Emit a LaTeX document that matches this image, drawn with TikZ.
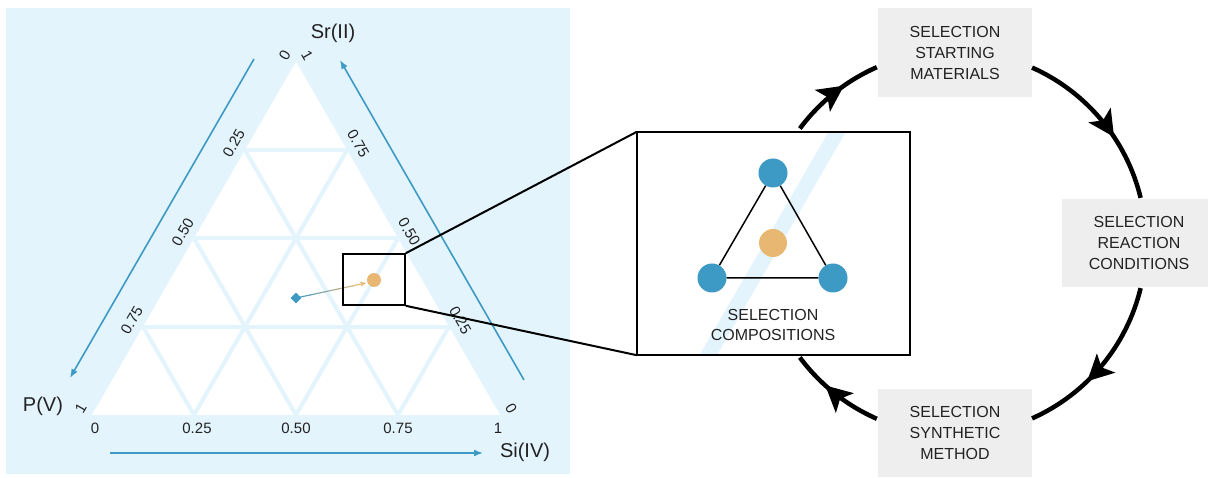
\documentclass[tikz,border=0pt]{standalone}
\usepackage{fontspec}
\setmainfont{Liberation Sans}
\usetikzlibrary{arrows.meta,calc,shapes.geometric,decorations.markings}
\definecolor{bgblue}{HTML}{E3F4FD}
\definecolor{tblue}{HTML}{3D9AC4}
\definecolor{torange}{HTML}{E8B872}
\definecolor{boxgray}{HTML}{EEEEEE}
\definecolor{txt}{HTML}{222222}
\begin{document}
\begin{tikzpicture}[x=1pt,y=1pt,
  gridline/.style={bgblue,line width=4pt},
  axisarrow/.style={tblue,line width=1.6pt,-{Latex[length=9pt,width=7pt]}},
  tick/.style={font=\fontsize{15}{15}\selectfont,text=txt,inner sep=0pt},
  axlabel/.style={font=\fontsize{20}{20}\selectfont,text=txt,inner sep=0pt},
  graybox/.style={fill=boxgray,align=center,font=\fontsize{16}{21}\selectfont,text=txt,inner sep=0pt},
  cyc/.style={line width=4.5pt,postaction={decorate},decoration={markings,mark=at position 0.62 with {\arrow{Stealth[length=26pt,width=26pt,inset=6pt]}}}},
  vtx/.style={circle,fill=tblue,minimum size=29pt,inner sep=0pt},
  ctr/.style={circle,fill=torange,minimum size=28pt,inner sep=0pt},
  zoomline/.style={line width=2pt,black}
]
\useasboundingbox (0,0) rectangle (1208,477);
% background panel
\fill[bgblue] (6,3) rectangle (570,469);

% ternary triangle
\coordinate (A) at (92,62);
\coordinate (B) at (500,62);
\coordinate (C) at (296,415.3);
\fill[white] (A) -- (B) -- (C) -- cycle;
\foreach \t/\s in {0.25/0.75,0.5/0.5,0.75/0.25}{
  \draw[gridline] ($(A)!\t!(C)$) -- ($(B)!\t!(C)$);
  \draw[gridline] ($(A)!\t!(B)$) -- ($(B)!\s!(C)$);
  \draw[gridline] ($(A)!\t!(B)$) -- ($(A)!\t!(C)$);
}

% tick labels
\foreach \x/\l [count=\i] in {95/0,197/0.25,296/0.50,398/0.75,498/1}
  \node[tick] (bt\i) at (\x,49) {\l};
\foreach \t/\l [count=\i] in {0/0,0.25/0.25,0.5/0.50,0.75/0.75,1/1}
  \node[tick,rotate=60] (lt\i) at ($(C)!\t!(A)+(-11.3,6.5)$) {\l};
\foreach \t/\l [count=\i] in {0/1,0.25/0.75,0.5/0.50,0.75/0.25,1/0}
  \node[tick,rotate=-60] (rt\i) at ($(C)!\t!(B)+(11.3,6.5)$) {\l};

% axis labels
\node[axlabel] (sr) at (333,444) {Sr(II)};
\node[axlabel] (pv) at (43,71) {P(V)};
\node[axlabel] (si) at (525,25) {Si(IV)};

% axis arrows
\coordinate (la1) at (254,418); \coordinate (la2) at (70,99);
\coordinate (ra1) at (524,97);  \coordinate (ra2) at (340,417);
\coordinate (ba1) at (110,24);  \coordinate (ba2) at (483,24);
\draw[axisarrow] (la1) -- (la2);
\draw[axisarrow] (ra1) -- (ra2);
\draw[axisarrow] (ba1) -- (ba2);

% point and move
\node[diamond,fill=tblue,inner sep=0pt,minimum size=11pt] (dm) at (296,179) {};
\coordinate (tp) at (366,194);
\foreach \i in {0,...,8}{
  \pgfmathtruncatemacro\p{100-\i*12}
  \pgfmathsetmacro\a{\i/10}
  \pgfmathsetmacro\b{\i/10+0.11}
  \draw[line width=1.1pt,tblue!\p!torange] ($(dm.center)!\a!(tp)$) -- ($(dm.center)!\b!(tp)$);
}
\draw[line width=1.1pt,torange,-{Stealth[length=6pt,width=5pt]}] ($(dm.center)!0.9!(tp)$) -- (tp);
\node[circle,fill=torange,minimum size=14pt,inner sep=0pt] (od) at (374,197) {};

% selection box
\node[draw=black,line width=1.6pt,minimum width=62pt,minimum height=51pt,inner sep=0pt] (sbox) at (374,197.5) {};

% inset
\node[fill=white,minimum width=273pt,minimum height=223pt,inner sep=0pt] (inset) at (773.5,233.5) {};
\begin{scope}
  \clip (inset.south west) rectangle (inset.north east);
  \coordinate (sc) at (773,234);
  \draw[bgblue,line width=15pt] ($(sc)+(240:200)$) -- ($(sc)+(60:200)$);
\end{scope}
\draw[line width=2.2pt] (inset.south west) rectangle (inset.north east);
\draw[zoomline] (sbox.north east) -- (inset.north west);
\draw[zoomline] (sbox.south east) -- (inset.south west);

\node[vtx] (v1) at (773,304) {};
\node[vtx] (v2) at (712,199) {};
\node[vtx] (v3) at (833,199) {};
\draw[line width=1.5pt] (v1) -- (v2) -- (v3) -- (v1);
\node[ctr] (vc) at (773,234) {};
\node[align=center,font=\fontsize{16}{20}\selectfont,text=txt,inner sep=0pt] (comp) at (773,152) {SELECTION\\COMPOSITIONS};

% gray boxes
\node[graybox,minimum width=154pt,minimum height=89pt] (top) at (955,424.5) {SELECTION\\STARTING\\MATERIALS};
\node[graybox,minimum width=146pt,minimum height=88pt] (right) at (1135,234) {\hspace*{8pt}SELECTION\\\hspace*{8pt}REACTION\\\hspace*{8pt}CONDITIONS};
\node[graybox,minimum width=154pt,minimum height=88pt] (bot) at (955,44) {SELECTION\\SYNTHETIC\\METHOD};

% cycle
\coordinate (cc) at (954,234);
\coordinate (s1) at ($(cc)+(143.4:192)$);
\coordinate (s2) at ($(cc)+(66:192)$);
\coordinate (s3) at ($(cc)+(-13.6:192)$);
\coordinate (s4) at ($(cc)+(-113.7:192)$);
\draw[cyc] (s1) arc[start angle=143.4,end angle=113.7,radius=192];
\draw[cyc] (s2) arc[start angle=66,end angle=13.6,radius=192];
\draw[cyc] (s3) arc[start angle=-13.6,end angle=-66,radius=192];
\draw[cyc] (s4) arc[start angle=-113.7,end angle=-143.4,radius=192];
\end{tikzpicture}
\end{document}
